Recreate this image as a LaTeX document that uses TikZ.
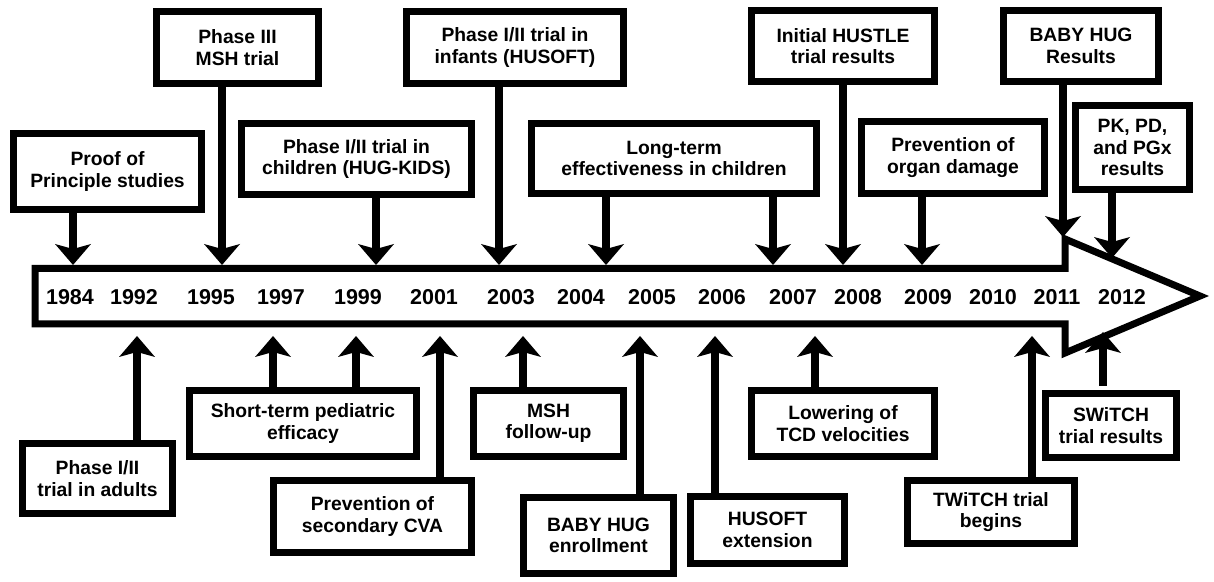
\documentclass[tikz,border=0pt]{standalone}
\usepackage{fontspec}
\setmainfont{Liberation Sans}
\usetikzlibrary{arrows.meta, positioning}
\tikzset{
  evtBox/.style={rectangle, draw=black, line width=7pt, fill=white, align=center,
                 font=\bfseries\fontsize{19.3}{21.5}\selectfont, inner sep=2pt},
  arrowK/.style={-{Stealth[length=21pt, width=36pt, inset=5pt, line width=0pt]},
                 line width=7.5pt},
  yearLbl/.style={font=\bfseries\fontsize{21.5}{24}\selectfont, inner sep=0pt},
}

\begin{document}
\begin{tikzpicture}[x=1pt, y=1pt]
    \useasboundingbox (0,0) rectangle (1214,581);
    % timeline arrow
    \draw[line width=7pt] (35,312.5) -- (1065,312.5) -- (1065,342) -- (1200,285)
          -- (1065,228) -- (1065,257) -- (35,257) -- cycle;
    \coordinate (tl) at (0,316); \coordinate (bl) at (0,245);
    \coordinate (headTop) at (0,344); \coordinate (headEdge) at (0,323);
    \coordinate (headLow) at (0,249);
    \node[yearLbl] (y1984) at (70,283.5) {1984};   \node[yearLbl] (y1992) at (134,283.5) {1992};
    \node[yearLbl] (y1995) at (211,283.5) {1995};  \node[yearLbl] (y1997) at (281,283.5) {1997};
    \node[yearLbl] (y1999) at (358,283.5) {1999};  \node[yearLbl] (y2001) at (434,283.5) {2001};
    \node[yearLbl] (y2003) at (511,283.5) {2003};  \node[yearLbl] (y2004) at (581,283.5) {2004};
    \node[yearLbl] (y2005) at (652,283.5) {2005};  \node[yearLbl] (y2006) at (722,283.5) {2006};
    \node[yearLbl] (y2007) at (793,283.5) {2007};  \node[yearLbl] (y2008) at (858,283.5) {2008};
    \node[yearLbl] (y2009) at (928,283.5) {2009};  \node[yearLbl] (y2010) at (993,283.5) {2010};
    \node[yearLbl] (y2011) at (1057,283.5) {2011}; \node[yearLbl] (y2012) at (1122,283.5) {2012};
    % events above the line
    \node[evtBox, minimum width=188pt, minimum height=76pt] (proof) at (107.5,409.5)
          {Proof of\\Principle studies};
    \node[evtBox, minimum width=162pt, minimum height=72pt] (msh3) at (237.5,533.5)
          {Phase III\\MSH trial};
    \node[evtBox, minimum width=230pt, minimum height=71pt] (hugkids) at (356.5,422)
          {Phase I/II trial in\\children (HUG-KIDS)};
    \node[evtBox, minimum width=217pt, minimum height=72pt] (husoft) at (515,533.5)
          {Phase I/II trial in\\infants (HUSOFT)};
    \node[evtBox, minimum width=285pt, minimum height=70pt] (longterm) at (674,422.5)
          {Long-term\\effectiveness in children};
    \node[evtBox, minimum width=183pt, minimum height=71pt] (hustle) at (843,535)
          {Initial HUSTLE\\trial results};
    \node[evtBox, minimum width=183pt, minimum height=72pt] (organ) at (953,423.5)
          {Prevention of\\organ damage};
    \node[evtBox, minimum width=155pt, minimum height=71pt] (babyres) at (1081,535)
          {BABY HUG\\Results};
    \node[evtBox, minimum width=114pt, minimum height=84pt] (pk) at (1132.5,433.5)
          {PK, PD,\\and PGx\\results};
    % events below the line
    \node[evtBox, minimum width=150pt, minimum height=70pt] (adults) at (97.5,102.5)
          {Phase I/II\\trial in adults};
    \node[evtBox, minimum width=227pt, minimum height=66pt] (short) at (303,157.5)
          {Short-term pediatric\\efficacy};
    \node[evtBox, minimum width=198pt, minimum height=72pt] (cva) at (372.5,64.5)
          {Prevention of\\secondary CVA};
    \node[evtBox, minimum width=150pt, minimum height=66pt] (mshfu) at (548.5,157.5)
          {MSH\\follow-up};
    \node[evtBox, minimum width=150pt, minimum height=76pt] (babyenr) at (598.5,45.5)
          {BABY HUG\\enrollment};
    \node[evtBox, minimum width=154pt, minimum height=67pt] (husext) at (767.5,51)
          {HUSOFT\\extension};
    \node[evtBox, minimum width=183pt, minimum height=66pt] (tcd) at (843,157.5)
          {Lowering of\\TCD velocities};
    \node[evtBox, minimum width=167pt, minimum height=63pt] (twitch) at (991,69)
          {TWiTCH trial\\begins};
    \node[evtBox, minimum width=131pt, minimum height=64pt] (switch) at (1111,155.5)
          {SWiTCH\\trial results};
    % arrows
    \draw[arrowK] (73,0 |- proof.south) -- (73,0 |- tl);
    \draw[arrowK] (222,0 |- msh3.south) -- (222,0 |- tl);
    \draw[arrowK] (376,0 |- hugkids.south) -- (376,0 |- tl);
    \draw[arrowK] (499,0 |- husoft.south) -- (499,0 |- tl);
    \draw[arrowK] (606,0 |- longterm.south) -- (606,0 |- tl);
    \draw[arrowK] (773,0 |- longterm.south) -- (773,0 |- tl);
    \draw[arrowK] (843,0 |- hustle.south) -- (843,0 |- tl);
    \draw[arrowK] (922,0 |- organ.south) -- (922,0 |- tl);
    \draw[arrowK] (1063,0 |- babyres.south) -- (1063,0 |- headTop);
    \draw[arrowK] (1112,0 |- pk.south) -- (1112,0 |- headEdge);
    \draw[arrowK] (137,0 |- adults.north) -- (137,0 |- bl);
    \draw[arrowK] (273,0 |- short.north) -- (273,0 |- bl);
    \draw[arrowK] (356,0 |- short.north) -- (356,0 |- bl);
    \draw[arrowK] (440,0 |- cva.north) -- (440,0 |- bl);
    \draw[arrowK] (523,0 |- mshfu.north) -- (523,0 |- bl);
    \draw[arrowK] (640,0 |- babyenr.north) -- (640,0 |- bl);
    \draw[arrowK] (715,0 |- husext.north) -- (715,0 |- bl);
    \draw[arrowK] (815,0 |- tcd.north) -- (815,0 |- bl);
    \draw[arrowK] (1032,0 |- twitch.north) -- (1032,0 |- bl);
    \draw[arrowK] ([xshift=-8pt, yshift=4pt]switch.north) -- (1103,0 |- headLow);
\end{tikzpicture}
\end{document}
